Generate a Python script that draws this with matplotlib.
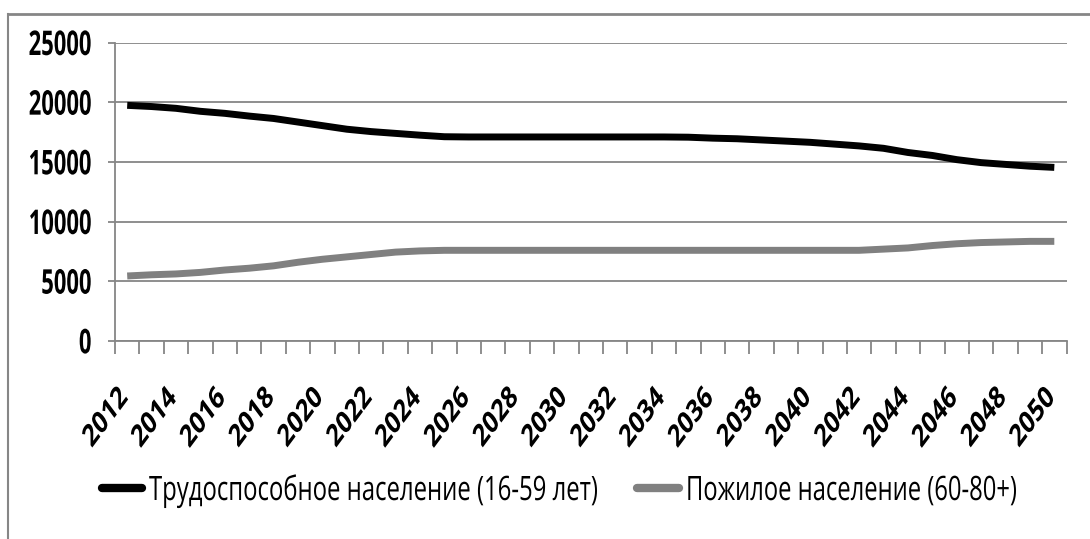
import matplotlib
matplotlib.use('Agg')
import matplotlib.pyplot as plt
import matplotlib.transforms as mtransforms
from matplotlib.lines import Line2D
from matplotlib.patheffects import AbstractPathEffect
from matplotlib.textpath import TextPath
from matplotlib.font_manager import FontProperties
import numpy as np

# ---- data ----
years = list(range(2012, 2051))
working_age = [19750, 19650, 19500, 19250, 19080, 18850, 18650, 18350, 18050, 17750,
               17550, 17400, 17250, 17120, 17100, 17100, 17100, 17100, 17100, 17100,
               17100, 17100, 17100, 17080, 17000, 16950, 16850, 16750, 16650, 16500,
               16350, 16150, 15800, 15550, 15200, 14950, 14800, 14650, 14550]
elderly = [5450, 5550, 5620, 5750, 5950, 6100, 6300, 6600, 6850, 7050,
           7250, 7450, 7550, 7600, 7600, 7600, 7600, 7600, 7600, 7600,
           7600, 7600, 7600, 7600, 7600, 7600, 7600, 7600, 7600, 7600,
           7600, 7700, 7800, 8000, 8150, 8250, 8300, 8350, 8350]
tick_labels = [str(y) for y in range(2012, 2051, 2)]
y_ticks = [0, 5000, 10000, 15000, 20000, 25000]
series_names = ['Трудоспособное население (16-59 лет)', 'Пожилое население (60-80+)']

W, H, DPI = 1090, 539, 100
GRID = '#868686'
FAM = ['Open Sans', 'DejaVu Sans']
fp_bold = FontProperties(family=FAM, weight='bold')
fp_reg = FontProperties(family=FAM, weight='normal')


class Stretch(AbstractPathEffect):
    """Draw text scaled (sx, sy) in display space about a pivot point of its glyphs."""
    def __init__(self, sx=1.0, sy=1.0, px='left', py='baseline'):
        super().__init__()
        self.sx, self.sy, self.px, self.py = sx, sy, px, py

    def draw_path(self, renderer, gc, tpath, affine, rgbFace=None):
        bb = tpath.get_extents(affine)
        ox, oy = affine.transform([(0.0, 0.0)])[0]
        cx = {'left': bb.x0, 'right': bb.x1, 'center': 0.5 * (bb.x0 + bb.x1)}[self.px]
        cy = {'baseline': oy, 'top': bb.y1, 'bottom': bb.y0,
              'center': 0.5 * (bb.y0 + bb.y1)}[self.py]
        aff = affine + (mtransforms.Affine2D().translate(-cx, -cy)
                        .scale(self.sx, self.sy).translate(cx, cy))
        renderer.draw_path(gc, tpath, aff, rgbFace)


def ink(s, fp, rot=0):
    tp = TextPath((0, 0), s, size=100, prop=fp)
    v = mtransforms.Affine2D().rotate_deg(rot).transform(tp.vertices)
    w = v[:, 0].max() - v[:, 0].min()
    h = v[:, 1].max() - v[:, 1].min()
    k = DPI / 72 / 100  # px per pt-of-size
    return w * k, h * k


# y labels: "20000" 62 px wide, 25 px tall
w1, h1 = ink('20000', fp_bold)
ysize = 62 / w1
ysy = 25 / (h1 * ysize)
# x labels: rotated 45, ~46 px wide, ~62 px tall
w2, h2 = ink('2012', fp_bold, 45)
xsize = 46 / w2
xsy = 62 / (h2 * xsize)
# legend: widths 448 / 330 px, cap height 24 px
_, hT = ink('Т', fp_reg)
wl1, _ = ink(series_names[0], fp_reg)
wl2, _ = ink(series_names[1], fp_reg)
lsize1 = 448 / wl1
lsize2 = 330 / wl2
lsy1 = 24 / (hT * lsize1)
lsy2 = 24 / (hT * lsize2)

fig = plt.figure(figsize=(W / DPI, H / DPI), dpi=DPI)
ax = fig.add_axes([115 / W, 1 - 341 / H, (1066.5 - 115) / W, (341 - 42.7) / H])

x = np.arange(len(years))
ax.plot(x, working_age, color='black', lw=5, solid_joinstyle='round', solid_capstyle='butt')
ax.plot(x, elderly, color='#808080', lw=5, solid_joinstyle='round', solid_capstyle='butt')

ax.set_xlim(-0.5, len(years) - 0.5)
ax.set_ylim(0, 25000)
ax.set_yticks(y_ticks)
ylabs = ax.set_yticklabels([str(v) for v in y_ticks], fontproperties=fp_bold, fontsize=ysize)
for t in ylabs:
    t.set_path_effects([Stretch(1.0, ysy, 'right', 'center')])
ax.yaxis.grid(True, color=GRID, lw=1.3)
ax.set_axisbelow(True)
for s in ['top', 'right']:
    ax.spines[s].set_visible(False)
for s in ['left', 'bottom']:
    ax.spines[s].set_color(GRID)
    ax.spines[s].set_linewidth(1.3)
ax.tick_params(axis='y', length=5, width=1.3, color=GRID, pad=12)

ax.set_xticks(x[::2])
xlabs = ax.set_xticklabels(tick_labels, fontproperties=fp_bold, fontsize=xsize,
                           rotation=45, ha='right', va='top', rotation_mode='anchor')
ax.tick_params(axis='x', which='major', length=0, pad=30)
ax.set_xticks(np.arange(-0.5, len(years), 1), minor=True)
ax.tick_params(axis='x', which='minor', length=9, width=1.3, color=GRID)
shift = mtransforms.ScaledTranslation(-11 / DPI, 0, fig.dpi_scale_trans)
for lab in xlabs:
    lab.set_transform(lab.get_transform() + shift)
    lab.set_path_effects([Stretch(1.0, xsy, 'right', 'top')])

# legend
ly = 1 - 488 / H
lb = 1 - 500 / H
fig.add_artist(Line2D([102 / W, 142 / W], [ly, ly], color='black', lw=6,
                      solid_capstyle='round', transform=fig.transFigure))
fig.add_artist(Line2D([637 / W, 679 / W], [ly, ly], color='#808080', lw=6,
                      solid_capstyle='round', transform=fig.transFigure))
t1 = fig.text(149 / W, lb, series_names[0], fontproperties=fp_reg, fontsize=lsize1,
              ha='left', va='baseline')
t1.set_path_effects([Stretch(1.0, lsy1, 'left', 'baseline')])
t2 = fig.text(686 / W, lb, series_names[1], fontproperties=fp_reg, fontsize=lsize2,
              ha='left', va='baseline')
t2.set_path_effects([Stretch(1.0, lsy2, 'left', 'baseline')])

# chart border (left and top)
fig.add_artist(Line2D([7.5 / W, 7.5 / W], [0, 1 - 14 / H], color=GRID, lw=1.5,
                      transform=fig.transFigure))
fig.add_artist(Line2D([7.5 / W, 1], [1 - 14 / H, 1 - 14 / H], color=GRID, lw=2,
                      transform=fig.transFigure))

fig.savefig('out.png', dpi=DPI)
